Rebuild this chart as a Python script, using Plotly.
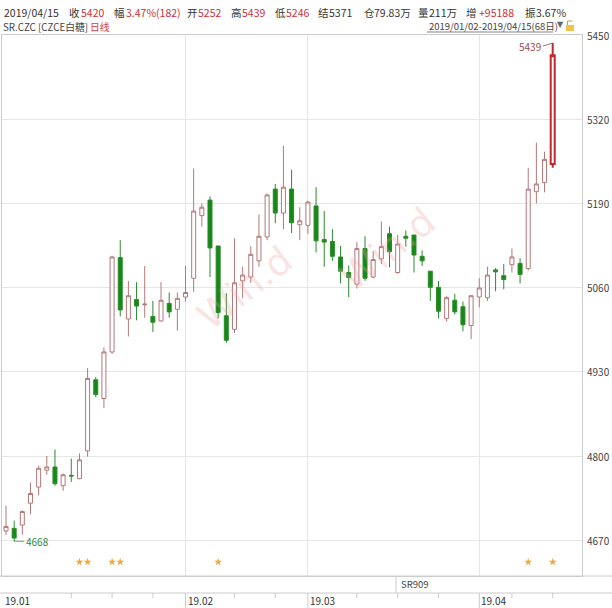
import plotly.graph_objects as go

# ---------------- data ----------------
days = list(range(68))  # trading days 2019/01/02 .. 2019/04/15
opens = [4684, 4688, 4693, 4727, 4752, 4778, 4783, 4754, 4770, 4765,
         4808, 4918, 4889, 4961, 5107, 5012, 5042, 5034, 5016, 5009,
         5036, 5027, 5046, 5075, 5172, 5196, 5125, 5017, 4996, 5071,
         5077, 5102, 5139, 5213, 5176, 5213, 5158, 5157, 5187, 5135,
         5132, 5108, 5084, 5066, 5121, 5077, 5105, 5144, 5084, 5140,
         5142, 5109, 5086, 5061, 5013, 5041, 5031, 5002, 5046, 5045,
         5088, 5079, 5096, 5098, 5090, 5209, 5223, 5252]
highs = [4723, 4700, 4716, 4759, 4785, 4800, 4810, 4773, 4796, 4804,
         4936, 4922, 4968, 5110, 5134, 5071, 5069, 5094, 5040, 5069,
         5053, 5053, 5094, 5245, 5191, 5202, 5125, 5052, 5137, 5093,
         5125, 5174, 5206, 5221, 5280, 5243, 5185, 5195, 5216, 5179,
         5151, 5125, 5095, 5131, 5140, 5117, 5163, 5155, 5142, 5149,
         5142, 5118, 5086, 5071, 5048, 5051, 5039, 5049, 5075, 5093,
         5091, 5097, 5121, 5106, 5246, 5285, 5271, 5439]
lows = [4678, 4668, 4678, 4710, 4739, 4771, 4754, 4746, 4760, 4764,
        4799, 4891, 4874, 4958, 5016, 4985, 5010, 5014, 4992, 5008,
        5014, 4994, 5039, 5054, 5155, 5077, 5013, 4975, 4990, 5044,
        5068, 5093, 5134, 5160, 5151, 5145, 5134, 5144, 5115, 5093,
        5102, 5067, 5046, 5059, 5071, 5075, 5097, 5092, 5082, 5124,
        5084, 5094, 5040, 5013, 5008, 5019, 4993, 4981, 5030, 5040,
        5055, 5058, 5084, 5067, 5087, 5191, 5208, 5246]
closes = [4691, 4673, 4714, 4742, 4781, 4783, 4757, 4771, 4769, 4794,
          4920, 4895, 4961, 5108, 5026, 5048, 5032, 5035, 5007, 5041,
          5023, 5044, 5053, 5179, 5185, 5122, 5022, 4979, 5068, 5080,
          5112, 5140, 5204, 5176, 5216, 5161, 5164, 5193, 5133, 5131,
          5109, 5086, 5076, 5121, 5075, 5104, 5124, 5116, 5128, 5137,
          5111, 5102, 5061, 5024, 5045, 5023, 5003, 5048, 5060, 5080,
          5085, 5073, 5108, 5081, 5213, 5221, 5259, 5420]

y_ticks = [4670, 4800, 4930, 5060, 5190, 5320, 5450]
month_labels = ["19.01", "19.02", "19.03", "19.04"]
month_start = [0, 22, 37, 58]
week_ticks = [8, 13, 18, 28, 33, 43, 48, 53, 62, 67]
star_days = [9, 10, 13, 14, 26, 64, 67]
star_level = 4636
contract_label = "SR909"
contract_day = 48
high_mark = 5439
low_mark = 4668

# ---------------- styles ----------------
UP_LINE = "#b27878"
DN_LINE = "#2c8a2c"
DN_FILL = "#148a14"
LAST_LINE = "#c0282e"
GRID = "#e6e6e6"
BORDER = "#cccccc"
FONT = "Noto Sans CJK SC"
RED = "#c8323a"
TXT = "#333333"

# plot area in pixels: x 2..582, y 35..576
def px(x):
    return (x - 2) / 580.0

def py(y):
    return (576 - y) / 541.0

fig = go.Figure()
fig.add_trace(go.Candlestick(
    x=days[:-1], open=opens[:-1], high=highs[:-1], low=lows[:-1], close=closes[:-1],
    increasing=dict(line=dict(color=UP_LINE, width=1), fillcolor="#ffffff"),
    decreasing=dict(line=dict(color=DN_LINE, width=1), fillcolor=DN_FILL),
    whiskerwidth=0, hoverinfo="skip", showlegend=False))
fig.add_trace(go.Candlestick(
    x=days[-1:], open=opens[-1:], high=highs[-1:], low=lows[-1:], close=closes[-1:],
    increasing=dict(line=dict(color=LAST_LINE, width=2), fillcolor="#ffffff"),
    decreasing=dict(line=dict(color=DN_LINE, width=2), fillcolor=DN_FILL),
    whiskerwidth=0, hoverinfo="skip", showlegend=False))
fig.add_trace(go.Scatter(
    x=star_days, y=[star_level] * len(star_days), mode="markers",
    marker=dict(symbol="star", size=6, color="#f0a834"),
    hoverinfo="skip", showlegend=False))

annotations = []

# header line 1
header = [
    (2, "2019/04/15", TXT), (67, "收", TXT), (79, "5420", RED),
    (112, "幅", TXT), (124, "3.47%(182)", RED), (185, "开", TXT),
    (196, "5252", RED), (229, "高", TXT), (240, "5439", RED),
    (273, "低", TXT), (284, "5246", RED), (316, "结", TXT),
    (327, "5371", TXT), (362, "仓", TXT), (372, "79.83万", TXT),
    (416, "量", TXT), (427, "211万", TXT), (464, "增", TXT),
    (477, "+95188", RED), (523, "振", TXT), (534, "3.67%", TXT),
]
for x, t, c in header:
    annotations.append(dict(x=px(x), y=py(12.5), xref="paper", yref="paper",
                            text=t, showarrow=False, xanchor="left", yanchor="middle",
                            font=dict(family=FONT, size=10.5, color=c)))
# header line 2
annotations.append(dict(x=px(1), y=py(27), xref="paper", yref="paper",
                        text="SR.CZC [CZCE白糖]", showarrow=False, xanchor="left",
                        yanchor="middle", font=dict(family=FONT, size=9.8, color="#444")))
annotations.append(dict(x=px(88), y=py(27), xref="paper", yref="paper",
                        text="日线", showarrow=False, xanchor="left",
                        yanchor="middle", font=dict(family=FONT, size=9.8, color="#d23c3c")))
annotations.append(dict(x=px(427), y=py(26), xref="paper", yref="paper",
                        text="2019/01/02-2019/04/15(68日)", showarrow=False, xanchor="left",
                        yanchor="middle", font=dict(family=FONT, size=9.5, color="#444")))
annotations.append(dict(x=px(555), y=py(25), xref="paper", yref="paper",
                        text="▼", showarrow=False, xanchor="left",
                        yanchor="middle", font=dict(family="DejaVu Sans", size=8, color="#666")))

# y tick labels
for v in y_ticks:
    annotations.append(dict(x=px(585), y=v, xref="paper", yref="y", text=str(v),
                            showarrow=False, xanchor="left", yanchor="middle",
                            font=dict(family=FONT, size=10, color="#444")))

# month labels
for lab, d in zip(month_labels, month_start):
    annotations.append(dict(x=d, y=py(600), xref="x", yref="paper", text=lab,
                            showarrow=False, xanchor="left", yanchor="middle", xshift=-3 if d == 0 else 0,
                            font=dict(family=FONT, size=10, color="#333")))
# contract label
annotations.append(dict(x=contract_day, y=py(584), xref="x", yref="paper", text=contract_label,
                        showarrow=False, xanchor="left", yanchor="middle", xshift=1,
                        font=dict(family=FONT, size=9.5, color="#444")))
# high / low marks
annotations.append(dict(x=days[-1], y=high_mark, xref="x", yref="y", text=str(high_mark),
                        showarrow=True, arrowhead=0, arrowwidth=0.8, arrowcolor="#9a4a4a",
                        ax=-10, ay=3, xanchor="right", yanchor="middle",
                        font=dict(family=FONT, size=10, color="#9a4a4a")))
annotations.append(dict(x=days[1], y=low_mark, xref="x", yref="y", text=str(low_mark),
                        showarrow=True, arrowhead=0, arrowwidth=0.8, arrowcolor="#3a9a3a",
                        ax=10, ay=0, xanchor="left", yanchor="middle",
                        font=dict(family=FONT, size=10, color="#3a8a3a")))
# watermark
for x, y in [(245, 288), (388, 196)]:
    annotations.append(dict(x=px(x), y=py(y), xref="paper", yref="paper", text="Win.d",
                            showarrow=False, textangle=-38,
                            font=dict(family="DejaVu Sans", size=38, color="rgba(236,160,160,0.30)")))

shapes = []
# full-width separators below plot
for yy in [576, 593]:
    shapes.append(dict(type="line", xref="paper", yref="paper", x0=px(0), x1=px(612),
                       y0=py(yy), y1=py(yy), line=dict(color=BORDER, width=1)))
# underline of date range
shapes.append(dict(type="line", xref="paper", yref="paper", x0=px(427), x1=px(553),
                   y0=py(32), y1=py(32), line=dict(color="#666", width=0.8)))
# lock icon
shapes.append(dict(type="rect", xref="paper", yref="paper", x0=px(566), x1=px(574),
                   y0=py(31), y1=py(25), fillcolor="#f2c24a", line=dict(width=0)))
shapes.append(dict(type="path", xref="paper", yref="paper",
                   path=f"M {px(567.5)} {py(25)} L {px(567.5)} {py(21)} L {px(572.5)} {py(21)}",
                   line=dict(color="#c9a040", width=1)))
# date row month lines and week ticks
for d in month_start[1:]:
    shapes.append(dict(type="line", xref="x", yref="paper", x0=d, x1=d,
                       y0=py(593), y1=py(608), line=dict(color=BORDER, width=1)))
for d in week_ticks:
    shapes.append(dict(type="line", xref="x", yref="paper", x0=d, x1=d,
                       y0=py(593), y1=py(598), line=dict(color=BORDER, width=1)))
# contract switch line
shapes.append(dict(type="line", xref="x", yref="paper", x0=contract_day - 0.2, x1=contract_day - 0.2,
                   y0=py(576), y1=py(593), line=dict(color=BORDER, width=1)))

fig.update_layout(
    width=612, height=608,
    margin=dict(l=2, r=30, t=35, b=32),
    paper_bgcolor="#ffffff", plot_bgcolor="#ffffff",
    showlegend=False,
    font=dict(family=FONT),
    xaxis=dict(range=[-0.49, 70.59], rangeslider=dict(visible=False),
               tickvals=month_start[1:], showticklabels=False, ticks="",
               showgrid=True, gridcolor=GRID, gridwidth=1,
               showline=True, mirror=True, linecolor=BORDER, zeroline=False),
    yaxis=dict(side="right", range=[4614.3, 5451.5], tickvals=y_ticks,
               showgrid=True, gridcolor=GRID, gridwidth=1, ticks="",
               showticklabels=False,
               showline=True, mirror=True, linecolor=BORDER, zeroline=False),
    annotations=annotations,
    shapes=shapes,
)

fig.write_html("out.html", config={"displayModeBar": False},
               post_script="document.body.style.margin='0px';")
